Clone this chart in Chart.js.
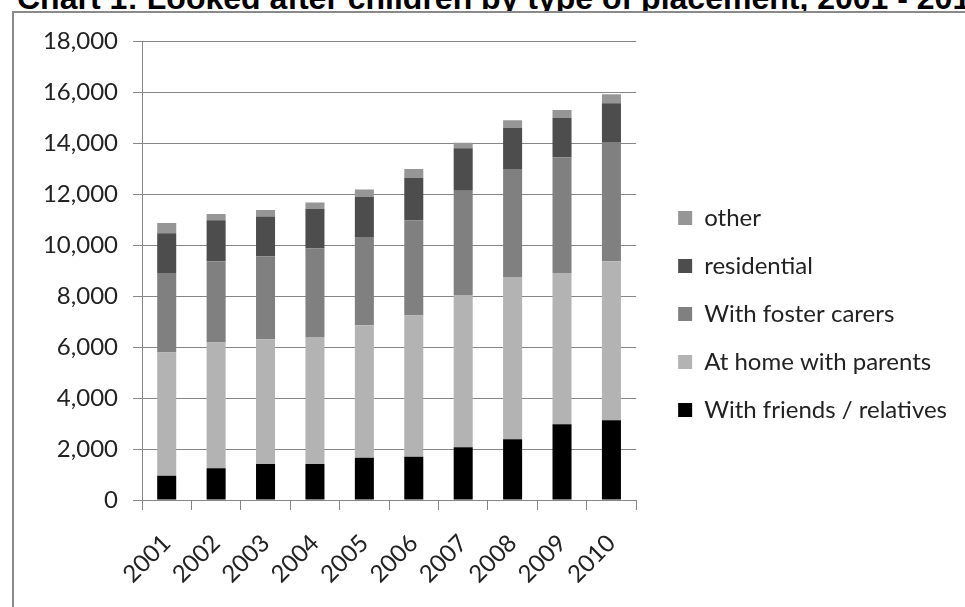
<!DOCTYPE html>
<html>
<head>
<meta charset="utf-8">
<script src="https://cdn.jsdelivr.net/npm/chart.js@4.4.0/dist/chart.umd.min.js"></script>
<style>
  html, body { margin: 0; padding: 0; background: #fff; width: 965px; height: 607px; overflow: hidden; position: relative; }
  #title { position: absolute; left: 17px; top: -18px; font: bold 32px "Liberation Sans", Arial, sans-serif; white-space: nowrap; color: #000; line-height: 32px; z-index: 1; }
  #frame { position: absolute; left: 12px; top: 11px; width: 2000px; height: 2000px; border-left: 2px solid #8a8a8a; border-top: 2px solid #8a8a8a; background: #fff; z-index: 2; }
  #wrap { position: absolute; left: 0; top: 0; width: 965px; height: 607px; z-index: 3; }
</style>
</head>
<body>
<div id="title">Chart 1: Looked after children by type of placement, 2001 - 2010</div>
<div id="frame"></div>
<div id="wrap"><canvas id="grafica" width="965" height="607"></canvas></div>
<script>
// datos
var years = ['2001', '2002', '2003', '2004', '2005', '2006', '2007', '2008', '2009', '2010'];
var friends = [950, 1250, 1410, 1410, 1660, 1700, 2070, 2380, 2970, 3130];
var home = [4830, 4930, 4890, 4980, 5190, 5540, 5970, 6370, 5930, 6230];
var foster = [3120, 3180, 3260, 3470, 3460, 3730, 4090, 4230, 4540, 4680];
var residential = [1560, 1610, 1560, 1560, 1570, 1670, 1660, 1610, 1550, 1520];
var other = [400, 250, 250, 250, 300, 340, 220, 300, 300, 350];
var yTicks = [0, 2000, 4000, 6000, 8000, 10000, 12000, 14000, 16000, 18000];

var gridColor = '#868686';
var txtFont = { family: 'Lato, "Open Sans", sans-serif', size: 24 };

function serie(label, data, color) {
  return {
    label: label,
    data: data,
    backgroundColor: color,
    borderWidth: 0,
    barPercentage: 0.385,
    categoryPercentage: 1
  };
}

var myChart = new Chart(document.getElementById('grafica'), {
  type: 'bar',
  data: {
    labels: years,
    datasets: [
      serie('With friends / relatives', friends, '#000000'),
      serie('At home with parents', home, '#b3b3b3'),
      serie('With foster carers', foster, '#808080'),
      serie('residential', residential, '#4d4d4d'),
      serie('other', other, '#969696')
    ]
  },
  options: {
    responsive: false,
    animation: false,
    devicePixelRatio: 1,
    layout: { padding: { left: 20, top: 41, right: 8, bottom: 20 } },
    plugins: {
      tooltip: { enabled: false },
      legend: {
        position: 'right',
        reverse: true,
        maxWidth: 400,
        labels: {
          boxWidth: 14,
          boxHeight: 14,
          padding: 24,
          color: '#222',
          font: txtFont
        }
      }
    },
    scales: {
      x: {
        stacked: true,
        offset: true,
        grid: { display: true, drawOnChartArea: false, color: gridColor, tickLength: 10, offset: true },
        border: { color: gridColor },
        ticks: { minRotation: 45, maxRotation: 45, autoSkip: false, padding: 19, color: '#222', font: txtFont },
        afterFit: function(s) { s.height = 87; }
      },
      y: {
        stacked: true,
        min: 0,
        max: 18000,
        afterBuildTicks: function(s) { s.ticks = yTicks.map(function(v) { return { value: v }; }); },
        grid: { color: gridColor, tickLength: 9 },
        border: { color: gridColor },
        ticks: {
          padding: 15,
          color: '#222',
          font: txtFont,
          callback: function(v) { return v.toLocaleString('en-US'); }
        },
        afterFit: function(s) { s.width = 122; }
      },
      y2: {
        position: 'right',
        display: true,
        grid: { display: false },
        border: { display: false },
        ticks: { display: false },
        afterFit: function(s) { s.width = 18; }
      }
    }
  }
});
</script>
</body>
</html>
